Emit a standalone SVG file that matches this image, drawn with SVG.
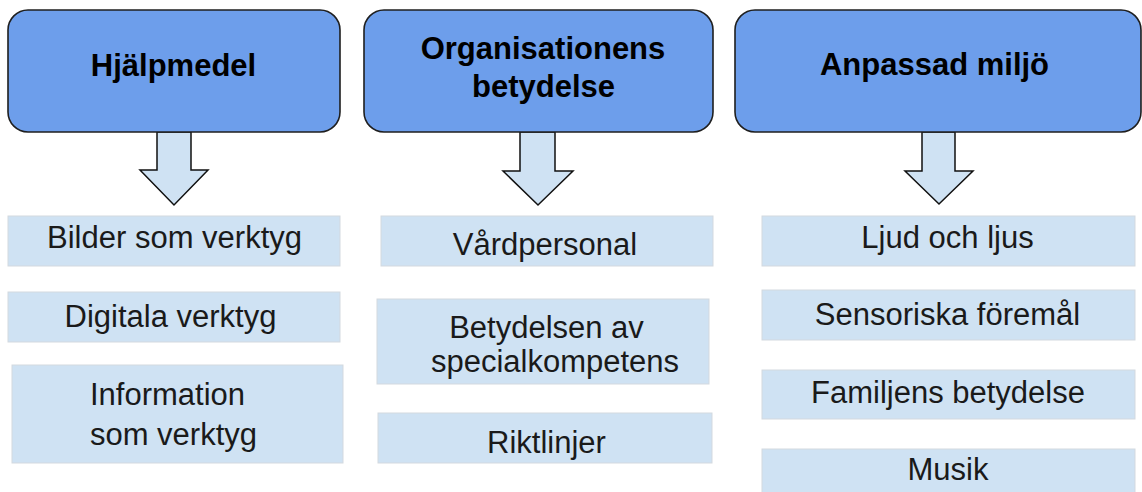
<svg xmlns="http://www.w3.org/2000/svg" width="1142" height="492" viewBox="0 0 1142 492">
<style>
.hdr{fill:#6d9eeb;stroke:#1f1f1f;stroke-width:1.6}
.sub{fill:#cfe2f3;stroke:#d3d9df;stroke-width:1}
.arr{fill:#cfe2f3;stroke:#111;stroke-width:1.5;stroke-linejoin:miter}
.ht{font-family:"Liberation Sans",Arial,sans-serif;font-weight:bold;font-size:31px;fill:#000;text-anchor:middle}
.st{font-family:"Liberation Sans",Arial,sans-serif;font-size:31px;fill:#1a1a1a;text-anchor:middle}
</style>
<rect width="1142" height="492" fill="#fff"/>
<g id="connectors">
<polygon class="arr" points="157,132 191,132 191,170 208,170 174,205 140,170 157,170"/>
<polygon class="arr" points="520,132 555,132 555,171 573,171 538,205 503,171 520,171"/>
<polygon class="arr" points="922,132 955,132 955,171 973,171 939,204 905,171 922,171"/>
</g>
<g id="n-hjalpmedel">
<rect class="hdr" x="8" y="10" width="332" height="122" rx="20"/>
<text class="ht" x="173.5" y="76">Hjälpmedel</text>
</g>
<g id="n-organisation">
<rect class="hdr" x="364" y="10" width="349" height="122" rx="20"/>
<text class="ht" x="543" y="59">Organisationens</text>
<text class="ht" x="543.5" y="97">betydelse</text>
</g>
<g id="n-anpassad">
<rect class="hdr" x="735" y="10" width="406" height="122" rx="20"/>
<text class="ht" x="934.5" y="75">Anpassad miljö</text>
</g>
<g id="n-bilder">
<rect class="sub" x="8" y="216" width="332" height="50"/>
<text class="st" x="174.5" y="248">Bilder som verktyg</text>
</g>
<g id="n-digitala">
<rect class="sub" x="8" y="292" width="332" height="50"/>
<text class="st" x="170.5" y="327">Digitala verktyg</text>
</g>
<g id="n-information">
<rect class="sub" x="12" y="365" width="331" height="98"/>
<text class="st" x="167.5" y="405">Information</text>
<text class="st" x="173.5" y="445">som verktyg</text>
</g>
<g id="n-vardpersonal">
<rect class="sub" x="381" y="216" width="332" height="50"/>
<text class="st" x="545" y="255">Vårdpersonal</text>
</g>
<g id="n-betydelsen">
<rect class="sub" x="377" y="299" width="332" height="85"/>
<text class="st" x="546.5" y="338">Betydelsen av</text>
<text class="st" x="555" y="372">specialkompetens</text>
</g>
<g id="n-riktlinjer">
<rect class="sub" x="378" y="413" width="334" height="50"/>
<text class="st" x="546.5" y="453">Riktlinjer</text>
</g>
<g id="n-ljud">
<rect class="sub" x="762" y="216" width="373" height="50"/>
<text class="st" x="947.5" y="248">Ljud och ljus</text>
</g>
<g id="n-sensoriska">
<rect class="sub" x="762" y="290" width="373" height="50"/>
<text class="st" x="947.5" y="325">Sensoriska föremål</text>
</g>
<g id="n-familjens">
<rect class="sub" x="762" y="370" width="373" height="49"/>
<text class="st" x="948" y="403">Familjens betydelse</text>
</g>
<g id="n-musik">
<rect class="sub" x="762" y="449" width="373" height="45"/>
<text class="st" x="948" y="480">Musik</text>
</g>
</svg>
